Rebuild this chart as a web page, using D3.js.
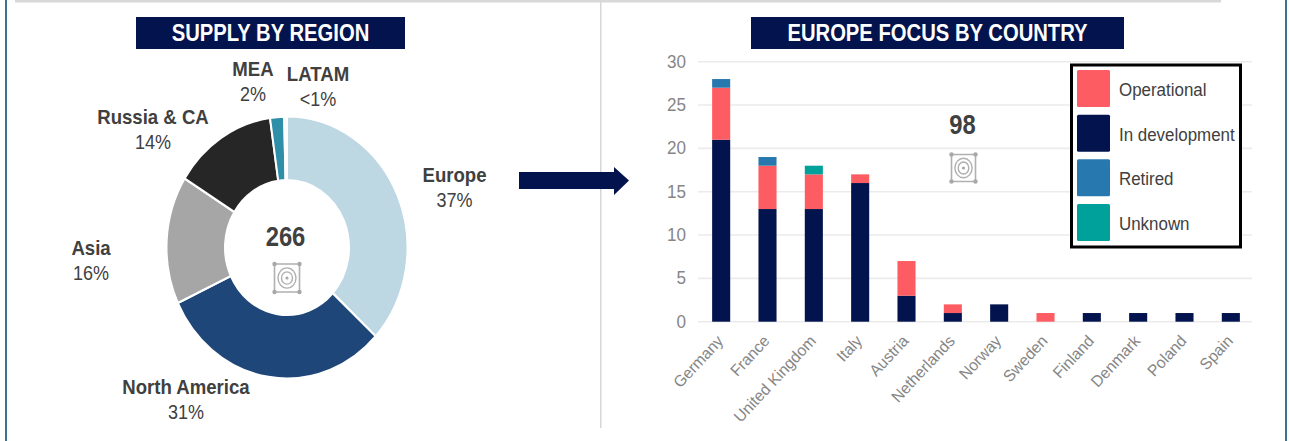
<!DOCTYPE html>
<html>
<head>
<meta charset="utf-8">
<script src="https://cdn.jsdelivr.net/npm/d3@7"></script>
<style>
html,body{margin:0;padding:0;background:#fff}
svg{display:block}
text{font-family:"Liberation Sans",Arial,sans-serif}
</style>
</head>
<body>
<svg id="chart" width="1289" height="441"></svg>
<script>
// Supply by region
const regions = ["Europe","North America","Asia","Russia & CA","MEA","LATAM"];
const regionValues = [98,83,42,37,5,1];
const regionShares = ["37%","31%","16%","14%","2%","<1%"];
const regionColors = ["#bdd8e3","#1f4679","#a6a6a6","#262626","#2f8fa8","#f4f8fa"];
const regionLabelPos = [[454.5,174.5],[186,387],[91,247.5],[153,117],[253,69],[318,74]];
const regionTotal = "266";

// Europe by country
const countries = ["Germany","France","United Kingdom","Italy","Austria","Netherlands","Norway","Sweden","Finland","Denmark","Poland","Spain"];
const inDevelopment = [21,13,13,16,3,1,2,0,1,1,1,1];
const operational   = [6,5,4,1,4,1,0,1,0,0,0,0];
const retired       = [1,1,0,0,0,0,0,0,0,0,0,0];
const unknown       = [0,0,1,0,0,0,0,0,0,0,0,0];
const europeTotal = "98";
const yTicks = [0,5,10,15,20,25,30];
const legendNames = ["Operational","In development","Retired","Unknown"];
const legendColors = ["#fd5c63","#03134d","#2878b0","#00a19a"];

const svg = d3.select("#chart");
const navy = "#03134d", ink = "#404040", gray = "#868686";

// Text narrowed horizontally: the slide's type is tall and condensed
function label(x,y,txt,size,opts={}){
  const sx = opts.sx ?? 0.92;
  return svg.append("text")
    .attr("transform",`translate(${x},${y}) scale(${sx},1)`)
    .attr("text-anchor",opts.anchor ?? "middle")
    .attr("font-size",size)
    .attr("font-weight",opts.weight ?? 400)
    .attr("fill",opts.fill ?? ink)
    .text(txt);
}

// Slide frame and dividers
svg.append("rect").attr("x",5).attr("y",0).attr("width",2).attr("height",441).attr("fill","#3d6f8e");
svg.append("rect").attr("x",1285).attr("y",0).attr("width",2).attr("height",441).attr("fill","#3d6f8e");
svg.append("rect").attr("x",15).attr("y",0).attr("width",1206).attr("height",2.5).attr("fill","#d8d8d8");
svg.append("rect").attr("x",600).attr("y",0).attr("width",1.5).attr("height",428).attr("fill","#d6d6d6");

// Section headers
function header(x0,x1,txt){
  svg.append("rect").attr("x",x0).attr("y",17).attr("width",x1-x0).attr("height",32).attr("fill",navy);
  label((x0+x1)/2,40.5,txt,23,{weight:700,fill:"#fff",sx:0.88});
}
header(136,405,"SUPPLY BY REGION");
header(751,1124,"EUROPE FOCUS BY COUNTRY");

// Small concentric-square site icon
function siteIcon(cx,cy,w,h){
  const g = svg.append("g").attr("transform",`translate(${cx},${cy})`)
    .attr("fill","none").attr("stroke","#b0b0b0");
  g.append("rect").attr("x",-w/2).attr("y",-h/2).attr("width",w).attr("height",h).attr("rx",2).attr("stroke-width",1.6);
  [[-1,-1],[1,-1],[-1,1],[1,1]].forEach(([a,b])=>{
    g.append("circle").attr("cx",a*w/2).attr("cy",b*h/2).attr("r",2.2).attr("fill","#a8a8a8").attr("stroke","none");
  });
  [[w*0.36,h*0.36],[w*0.22,h*0.22]].forEach(([rx,ry])=>{
    g.append("ellipse").attr("rx",rx).attr("ry",ry).attr("stroke-width",1.4);
  });
  g.append("circle").attr("r",1.6).attr("fill","#a8a8a8").attr("stroke","none");
}

// Donut, stretched vertically to its slide proportions
const pie = d3.pie().sort(null).value(d=>d)(regionValues);
const arc = d3.arc().innerRadius(62).outerRadius(120.5);
const donut = svg.append("g").attr("transform","translate(287,247.5) scale(1,1.087)");
donut.selectAll("path").data(pie).join("path")
  .attr("d",arc).attr("fill",(d,i)=>regionColors[i])
  .attr("stroke","#fff").attr("stroke-width",2);

regions.forEach((name,i)=>{
  const [x,y] = regionLabelPos[i];
  label(x,y+7,name,20,{weight:700,sx:0.93});
  label(x,y+32,regionShares[i],20,{sx:0.9});
});
label(285.5,246,regionTotal,28,{weight:700,sx:0.85});
siteIcon(287,278,25,28);

// Stacked bars
const y = d3.scaleLinear().domain([0,30]).range([321.7,61.7]);
const x = d3.scaleBand().domain(countries).range([698,1254]).paddingInner(0.61).paddingOuter(0.305);

svg.append("g").selectAll("line").data(yTicks).join("line")
  .attr("x1",698).attr("x2",1252).attr("y1",d=>y(d)).attr("y2",d=>y(d))
  .attr("stroke","#ebebeb").attr("stroke-width",1.6);

const yAxis = d3.axisLeft(y).tickValues(yTicks).tickSize(0).tickPadding(0);
const yG = svg.append("g").attr("transform","translate(686,0)").call(yAxis);
yG.select(".domain").remove();
yG.selectAll("text")
  .attr("font-size",19).attr("font-family","Liberation Sans").attr("fill",gray)
  .attr("x",0).attr("dy",null).attr("y",5.5)
  .attr("transform","scale(0.9,1)");

const rows = countries.map((c,i)=>({country:c,Operational:operational[i],"In development":inDevelopment[i],Retired:retired[i],Unknown:unknown[i]}));
const stack = d3.stack().keys(["In development","Operational","Retired","Unknown"])(rows);
const colorOf = d3.scaleOrdinal().domain(legendNames).range(legendColors);
svg.append("g").selectAll("g").data(stack).join("g").attr("fill",d=>colorOf(d.key))
  .selectAll("rect").data(d=>d.filter(v=>v[1]>v[0])).join("rect")
  .attr("x",d=>x(d.data.country)).attr("width",x.bandwidth())
  .attr("y",d=>y(d[1])).attr("height",d=>y(d[0])-y(d[1]));

const xAxis = d3.axisBottom(x).tickSize(0).tickPadding(0);
const xG = svg.append("g").attr("transform","translate(0,321.7)").call(xAxis);
xG.select(".domain").remove();
xG.selectAll("text")
  .attr("font-size",16).attr("font-family","Liberation Sans").attr("fill",gray)
  .attr("text-anchor","end").attr("dx",0).attr("dy",0).attr("y",0)
  .attr("transform","translate(3,20) rotate(-47) scale(0.98,1)");

label(962.5,134,europeTotal,28,{weight:700,sx:0.85});
siteIcon(963.5,168,24,27);

// Legend
svg.append("rect").attr("x",1071.5).attr("y",65).attr("width",169).attr("height",182)
  .attr("fill","#fff").attr("stroke","#000").attr("stroke-width",3);
const legendY = d3.scalePoint().domain(legendNames).range([70,204]);
legendNames.forEach(n=>{
  svg.append("rect").attr("x",1077).attr("y",legendY(n)).attr("width",33).attr("height",37).attr("rx",1.5).attr("fill",colorOf(n));
  label(1119,legendY(n)+26,n,18.5,{anchor:"start",sx:0.915});
});

// Arrow linking the Europe slice to the country breakdown
svg.append("path").attr("fill",navy)
  .attr("d",d3.line()([[519,172],[614,172],[614,167],[629,180.5],[614,195],[614,189],[519,189]])+"Z");
</script>
</body>
</html>
